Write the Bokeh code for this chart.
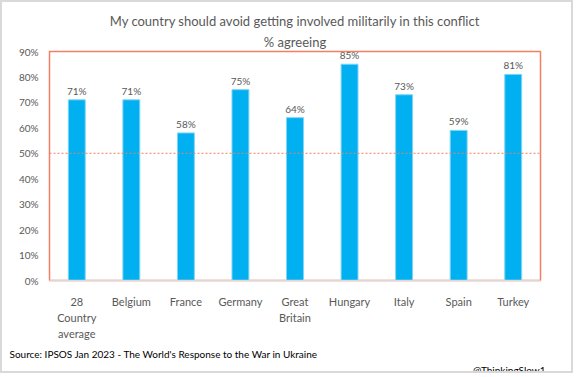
from bokeh.plotting import figure
from bokeh.models import ColumnDataSource, Span, FixedTicker, Title
from bokeh.core.properties import value
from bokeh.embed import file_html
from bokeh.resources import INLINE

categories = ["28\nCountry\naverage", "Belgium", "France", "Germany", "Great\nBritain",
              "Hungary", "Italy", "Spain", "Turkey"]
values = [71, 71, 58, 75, 64, 85, 73, 59, 81]
y_ticks = [0, 10, 20, 30, 40, 50, 60, 70, 80, 90]
title_main = "My country should avoid getting involved militarily in this conflict"
title_sub = "% agreeing"
source_text = "Source: IPSOS Jan 2023 - The World's Response to the War in Ukraine"
credit_text = "@ThinkingSlow1"

FONT = "Lato"
GREY = "#595959"
RED = "#F07F64"
BLUE = "#00B0F0"

pos = list(range(len(categories)))
src = ColumnDataSource(dict(x=pos, val=values, lab=[f"{v}%" for v in values]))

p = figure(x_range=(-0.5, len(categories) - 0.5), y_range=(0, 90), width=573, height=373,
           output_backend="svg", toolbar_location=None,
           min_border_left=47, min_border_right=35, min_border_top=49, min_border_bottom=90)
p.styles = {"border": "2px solid #d9d9d9"}
p.background_fill_color = "white"
p.border_fill_color = "white"
p.outline_line_color = RED
p.outline_line_width = 1.5
p.xgrid.grid_line_color = None
p.ygrid.grid_line_color = None

p.vbar(x="x", top="val", width=0.31, source=src, fill_color=BLUE, line_color="#7fd4f5", line_width=1)
p.text(x="x", y="val", text="lab", source=src, text_align="center", text_baseline="bottom",
       y_offset=-3, text_font=value(FONT), text_font_size="10px", text_color=GREY)

p.add_layout(Span(location=50, dimension="width", line_color=RED, line_dash="2 2", line_width=1))

p.yaxis.ticker = FixedTicker(ticks=y_ticks)
p.yaxis.major_label_overrides = {t: f"{t}%" for t in y_ticks}
p.yaxis.axis_line_color = None
p.yaxis.major_tick_line_color = None
p.yaxis.minor_tick_line_color = None
p.yaxis.major_label_text_font = FONT
p.yaxis.major_label_text_font_size = "10px"
p.yaxis.major_label_text_color = GREY

p.xaxis.ticker = FixedTicker(ticks=pos)
p.xaxis.major_label_overrides = dict(zip(pos, categories))
p.xaxis.axis_line_color = "#d9d9d9"
p.xaxis.axis_line_width = 1.5
p.xaxis.major_tick_line_color = None
p.xaxis.minor_tick_line_color = None
p.xaxis.major_label_standoff = 8
p.xaxis.major_label_text_font = FONT
p.xaxis.major_label_text_font_size = "11px"
p.xaxis.major_label_text_color = GREY
p.xaxis.major_label_text_line_height = 1.25

# titles above: the figure's own title is outermost, the added one sits next to the plot
p.title.text = title_main
p.title.align = "center"
p.title.offset = -32
p.title.standoff = 2
p.title.text_font = FONT
p.title.text_font_size = "13px"
p.title.text_font_style = "normal"
p.title.text_color = GREY
p.add_layout(Title(text=title_sub, align="center", offset=-32, standoff=4, text_font=FONT,
                   text_font_size="13px", text_font_style="normal", text_color=GREY), "above")

# footer below
p.add_layout(Title(text=source_text, align="left", offset=-40, standoff=4, text_font=FONT,
                   text_font_size="10px", text_font_style="normal", text_color="black"), "below")
p.add_layout(Title(text=credit_text, align="right", offset=-5, standoff=0, text_font=FONT,
                   text_font_size="10px", text_font_style="normal", text_color="black"), "below")

open("out.html", "w").write(file_html(p, INLINE))
